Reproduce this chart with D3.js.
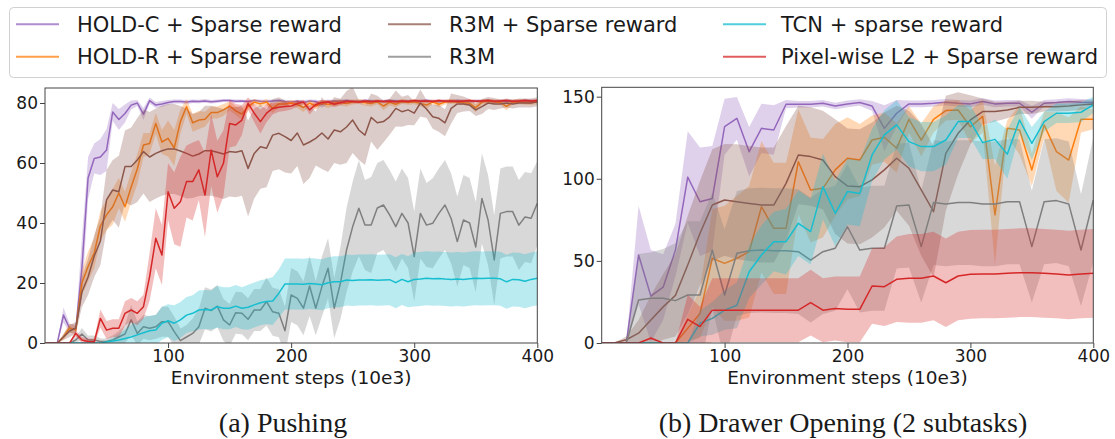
<!DOCTYPE html>
<html><head><meta charset="utf-8">
<script src="https://cdn.jsdelivr.net/npm/d3@7"></script>
<style>
body{margin:0;background:#fff}
svg{display:block}
text{font-family:"DejaVu Sans",sans-serif;fill:#1a1a1a}
</style>
</head><body>
<svg id="c" width="1115" height="439"></svg>
<script>
// ---------- DATA ----------
const seriesNames = ["HOLD-C + Sparse reward","HOLD-R + Sparse reward","R3M + Sparse reward","R3M","TCN + sparse reward","Pixel-wise L2 + Sparse reward"];
const seriesColors = ["#9467bd","#ff7f0e","#8c564b","#7f7f7f","#17becf","#d62728"];
const xTicks = [100,200,300,400];
const yTicksPush = [0,20,40,60,80];
const yTicksDrawer = [0,50,100,150];
const captions = ["(a) Pushing","(b) Drawer Opening (2 subtasks)"];
const xLabel = "Environment steps (10e3)";

// Pushing: environment steps (10e3)
const stepsPush = [0,5,10,15,20,25,30,35,40,45,50,55,60,65,70,75,80,85,90,95,100,105,110,115,120,125,130,135,140,145,150,155,160,165,170,175,180,185,190,195,200,205,210,215,220,225,230,235,240,245,250,255,260,265,270,275,280,285,290,295,300,305,310,315,320,325,330,335,340,345,350,355,360,365,370,375,380,385,390,395,400];

const pushHoldC = [0,0,0,9.3,4.9,4.5,25,55,61.5,62,
 64.3,77,74.5,76.5,79.3,80,76.3,80.8,79.3,79.7,
 80.2,80.5,80.5,80.3,80.6,80.5,80.7,80.4,80.6,80.8,
 80.8,80.6,80.7,80.5,80.8,80.6,80.5,80.7,80.8,80.5,
 80.3,80.6,80.2,80.7,80.5,79.6,80.4,80.7,80.6,80.8,
 80.5,80.6,80.8,80.7,80.5,80.6,80.8,80.7,80.4,80.6,
 80.5,80.7,80.8,80.6,80.4,80.7,80.5,80.8,80.6,80.5,
 80.7,80.6,80.8,80.4,80.6,80.7,80.5,80.6,80.8,80.7,
 80.6];
const pushHoldCSd = [0,0,0,2.5,1.5,1.5,10,7,5,6,
 7,3,3.5,3,1.5,1,2,1,1,1,
 0.8,0.7,0.7,0.7,0.6,0.6,0.6,0.6,0.6,0.5,
 0.5,0.6,0.5,0.5,0.5,0.6,0.6,0.5,0.5,0.6,
 0.6,0.5,0.8,0.5,0.6,1.2,0.7,0.5,0.6,0.5,
 0.5,0.5,0.5,0.5,0.5,0.5,0.5,0.5,0.6,0.5,
 0.5,0.5,0.5,0.5,0.6,0.5,0.5,0.5,0.5,0.5,
 0.5,0.5,0.5,0.6,0.5,0.5,0.5,0.5,0.5,0.5,
 0.5];

const pushHoldR = [0,0,0,2,5,4.3,20,25.5,30,39,
 42.7,45.4,50,45.4,52,58,66,66.5,73.2,67,
 68.2,65,73.8,78.8,73.4,74.3,74.6,76.8,76.8,77.7,
 79,77.4,76.3,78.8,80.3,79.7,80.3,78.2,79.7,79.7,
 80,79.5,78.5,80,79,80,79.5,80,80.2,79.8,
 80.3,80.5,80.1,79.8,80.4,79,80.2,79.6,80.5,80.2,
 80.4,79.8,79.3,80.4,79.6,80.3,80.5,80.3,80.1,79.9,
 78.4,80.3,80.6,80.4,80.2,78.9,80.3,80.4,80.2,80.1,
 80.4];
const pushHoldRSd = [0,0,0,1,1.5,1.5,4,5,5,5,
 5,6,5,5,5,5,4,3.5,3.5,4,
 6,6,4,2.5,3,3,2.5,2,2,2,
 1.5,1.5,2,1.5,1,1,1,1.5,1,1,
 1,1.2,1.5,1,1.2,1,1.2,1,1,1,
 0.8,0.8,1,1,0.8,1.3,1,1,0.8,0.8,
 0.8,1,1.2,0.8,1,0.8,0.8,0.8,0.8,1,
 1.5,0.8,0.7,0.8,0.8,1.3,0.8,0.8,0.8,0.8,
 0.8];

const pushR3MS = [0,0,0,2,4,5,17,22,29,34,
 47.7,51,50.4,58.8,58.8,61,63.8,62,63.2,64.1,
 64.7,64.7,64,63.2,62.3,63,64.1,64.1,63.6,63,
 63.8,63.6,64.1,58.2,63.2,65.4,64.9,69.3,69.9,68.8,
 67.5,70,66,67,68.2,70,68,71,70.4,72,
 74.3,71,69.3,75.2,73.4,73.8,75.4,78.2,77.1,77.7,
 76.6,80,78,75.4,74.9,73.4,78.2,79.7,79.7,79.3,
 77.7,78.8,80,79.7,79.7,80,79.7,80,80,80,
 80.4];
const pushR3MSSd = [0,0,0,1,2,2,5,6,7,8,
 10,10,12,12,13,14,14,15,15,15,
 15,15,15,15,14,14,15,15,15,15,
 15,15,15,16,15,14,13,12,12,12,
 11,11,13,12,9,12,11,11,11,12,
 11,10,10,8,9,7,6,6,5,5,
 4,4.5,3,4,4.5,4.5,5,3,2.5,2,
 2,2.5,2,2,1.5,1.5,1.5,1.5,1.5,1.5,
 1.5];

const pushR3M = [0,0,0,0,0,1,3,1,1,0.5,
 0.5,1,2,3,7.7,3.2,5.4,4.9,5.4,7.1,
 7.1,3.8,0.8,2,3.2,5.4,11.6,10.8,12.3,7.7,
 6,10.1,9.9,7.9,11,11,13.8,10.4,9.9,4.1,
 16,14.9,11.6,19,11.6,18.8,24.9,11.6,19.9,31,
 38.8,44.9,39.3,39.3,45,46,42.7,38.8,43.2,40,
 28.8,43.2,39.3,39.9,43.2,46,41.5,33.8,41,40,
 32,48.2,41,27.7,43.2,43.8,43.8,39.3,42,41.6,
 46.6];
const pushR3MSd = [0,0,0,0,0,1,2,1.5,1.5,1,
 1,1.5,2,3,5,4,4,4,4,5,
 5,5,4,4,5,6,7,7,7,7,
 7,7,7,7,7,7,8,8,8,8,
 9,9,9,10,9,10,10,10,12,14,
 15,16,15,16,15,15,15,15,15,15,
 15,15,14,15,15,15,15,15,15,15,
 15,15,15,15,15,15,15,15,15,15,
 14];

const pushTCN = [0,0,0,0,0,0,0,0,0,0,
 0.3,0.7,1,1.5,2,2.7,3.4,4.1,4.3,6.6,
 7.4,6.6,7.7,9.3,9.9,11,11.2,11,12.1,11.6,
 11.6,12.3,11.6,11.9,12.7,13.4,13.8,14,16.6,19.7,
 19.7,19.7,19.6,19.8,19.7,19.4,20.1,20.4,20.4,21,
 20.8,21,21,21.1,20.9,21,21.1,20.1,21.2,20.4,
 21.2,21.3,21.6,21.4,21.5,21.3,21.2,21.3,21.2,21.4,
 21.6,21.5,21.6,21.6,21.4,20.4,21.2,21.1,20.6,21.2,
 21.6];
const pushTCNSd = [0,0,0,0,0,0,0,0,0,0,
 0.5,1,2,3,4,4.5,5,5,5,5.5,
 5.5,6,6,6,6,6.5,6.5,6.5,7,7,
 7,7,7,7.5,7.5,7.5,7.5,8,8,8.5,
 8.5,8.5,8.5,8.5,8.5,8.5,8.5,8.5,8.5,8.5,
 8.5,8.5,8.5,8.5,8.5,8.5,8.5,8.5,8.5,8.5,
 9,9,9,9,9,9,9,9,9,9,
 9,9,9,9,9,9,9,9,9,9,
 9];

const pushPix = [0,0,0,0,0,3.2,1,0.5,0.4,8.2,
 4.3,4.9,4.9,9.9,11,9.9,12.1,22.1,34.9,29.3,
 50.4,44.9,47.1,53.8,53.8,57.7,49.3,64.3,55.4,59.9,
 73.2,72.7,74.3,79.9,76.6,73.8,76.6,78.2,78.6,78.8,
 79,79.8,80.3,77.7,79.5,80.2,80.4,79.6,80.1,80.5,
 80.5,80.3,80.6,80.4,80.7,80.5,80.6,80.4,80.7,80.5,
 80.8,80.6,80.7,80.5,80.8,80.6,80.7,80.5,80.7,80.8,
 80.6,80.7,80.8,80.6,80.7,80.8,80.6,80.7,80.8,80.7,
 80.8];
const pushPixSd = [0,0,0,0,0,1,1,1,1,3,
 3,3,3,4,4,4,4,8,10,10,
 9.5,12,15,12,13,10,14,12,12,11,
 8,7,5,2,3,4,3,2,1.5,1.5,
 1.2,1,0.8,1.5,1,0.8,0.7,1,0.8,0.6,
 0.6,0.5,0.5,0.5,0.5,0.5,0.5,0.5,0.5,0.5,
 0.5,0.5,0.5,0.5,0.5,0.5,0.5,0.5,0.5,0.5,
 0.5,0.5,0.5,0.5,0.5,0.5,0.5,0.5,0.5,0.5,
 0.5];

// Drawer opening: environment steps (10e3)
const stepsDrawer = [0,10,20,30,40,50,60,70,80,90,100,110,120,130,140,150,160,170,180,190,200,210,220,230,240,250,260,270,280,290,300,310,320,330,340,350,360,370,380,390,400];

const drawHoldC = [0,0,0,53.6,28.6,34,56.6,101,86,88,
 131.7,136.8,116.5,130.7,129.7,145.4,145.4,145.4,146,144.3,
 145.6,146.4,144.3,130.7,139.9,145.6,145.6,146,146.6,146,
 145.6,147,145.6,146,146,140.5,146,146.4,147,146.6,
 146.4];
const drawHoldCSd = [0,0,0,30,28,20,16,28,33,32,
 17,13,15,15,15,2.5,2,2,2,2,
 2,2,3,14,8,2,2,2,2,2,
 2,2,2,2,2,4,2,2,2,2,
 2];

const drawHoldR = [0,0,0,0,0,0,0,9,18,51.6,
 48.5,51.6,55.6,83,69.8,69.8,110.4,93.2,94.2,105.4,
 112.5,111.4,123.6,125.3,118.6,136.2,123.6,136.2,141.5,141.9,
 131.7,138,78,130.7,129.7,105.4,132.8,116.5,111.4,136.2,
 136.2];
const drawHoldRSd = [0,0,0,0,0,0,0,8,15,30,
 35,38,40,40,40,40,32,32,30,28,
 25,22,15,15,15,8,10,8,6,6,
 10,10,30,5,15,10,8,24,26,8,
 6];

const drawR3MS = [0,0,2,6,14,22,29,47.5,66.8,84,
 87.1,86,85,84,84,97.2,114.5,113.5,111.4,101.3,
 95.6,95.2,99.3,105.4,112.5,106.4,93.2,80,115.5,127.7,
 135.8,140.9,140.9,141.9,143.5,143.5,143.9,143.9,144.3,145,
 145.6];
const drawR3MSSd = [0,0,2,8,15,20,25,30,32,34,
 34,35,35,35,35,35,30,30,30,35,
 35,35,35,35,32,35,40,40,35,25,
 15,8,6,5,4,4,3,3,3,3,
 2];

const drawR3M = [0,0,0,26.2,27.2,27.2,25.8,29.2,29.2,56.6,
 29.2,54.6,56.2,56.6,56.2,56.2,55.6,50.5,55.6,57.7,
 70.8,56.6,57.7,57.7,83.4,84,58.7,85.5,84.7,85.5,
 85.5,84.7,84.7,86,86,58.7,86,86.7,84.7,56.6,
 87.1];
const drawR3MSd = [0,0,0,28,28,30,35,45,45,35,
 40,38,38,38,38,38,38,38,38,38,
 38,38,38,38,38,38,34,38,38,38,
 38,38,38,38,38,34,38,38,38,34,
 38];

const drawTCN = [0,0,0,0,0,0,0,0,12,15,
 20,23,43.4,53.6,61.7,61.7,72.9,67.8,95.2,79,
 92.2,91.1,114.5,126.7,132.8,122.6,119.6,119.6,123.6,134.8,
 134.8,122,124,115,135.8,121.6,134.8,139.9,139.9,140.5,
 145];
const drawTCNSd = [0,0,0,0,0,0,0,0,8,10,
 12,14,16,18,18,20,20,20,20,20,
 20,20,16,15,15,15,15,15,15,10,
 10,10,12,15,8,10,6,6,6,6,
 5];

const drawPix = [0,0,0,0,3,0,0,14.4,10,20,
 20,20,20,20,20,20,20,24.6,20,21,
 20.5,20.5,34.7,34.3,38.8,39.4,39.4,40.8,36.7,40.8,
 41.8,42,42,42.4,42.8,42.8,42.4,42,41.4,42,
 42.4];
const drawPixSd = [0,0,0,0,1,0,0,15,12,19.5,
 19.5,19.5,19.5,19.5,19.5,19.5,19.5,20,19.5,19.5,
 20,20,23,24,26,27,27,27,27,27,
 27,27,27,27,27,27,27,27,27,27,
 27];

// ---------- DRAW ----------
const svg = d3.select("#c");
svg.append("rect").attr("width",1115).attr("height",439).attr("fill","#fff");

function panel(cfg){
  const x = d3.scaleLinear().domain([0,400]).range([cfg.x0,cfg.x1]);
  const y = d3.scaleLinear().domain([0,cfg.ymax]).range([cfg.y1,cfg.y0]);
  const g = svg.append("g");
  const cid = "clip"+cfg.id;
  svg.append("clipPath").attr("id",cid).append("rect")
    .attr("x",cfg.x0).attr("y",cfg.y0).attr("width",cfg.x1-cfg.x0).attr("height",cfg.y1-cfg.y0);
  const plot = g.append("g").attr("clip-path",`url(#${cid})`);
  cfg.series.forEach((s,i)=>{
    const pts = cfg.steps.map((st,k)=>({x:st,m:s.mean[k],sd:s.sd[k]}));
    const area = d3.area().x(d=>x(d.x)).y0(d=>y(d.m-d.sd)).y1(d=>y(d.m+d.sd));
    plot.append("path").attr("d",area(pts)).attr("fill",seriesColors[i]).attr("fill-opacity",0.3).attr("stroke","none");
    const line = d3.line().x(d=>x(d.x)).y(d=>y(d.m));
    plot.append("path").attr("d",line(pts)).attr("fill","none").attr("stroke",seriesColors[i])
      .attr("stroke-width",1.5).attr("stroke-linejoin","round");
  });
  const ax = g.append("g").attr("transform",`translate(0,${cfg.y1})`)
    .call(d3.axisBottom(x).tickValues(xTicks).tickSize(5).tickPadding(2).tickFormat(d3.format("d")));
  const ay = g.append("g").attr("transform",`translate(${cfg.x0},0)`)
    .call(d3.axisLeft(y).tickValues(cfg.yticks).tickSize(5).tickPadding(2).tickFormat(d3.format("d")));
  [ax,ay].forEach(a=>{
    a.select(".domain").remove();
    a.selectAll(".tick line").attr("stroke","#444");
    a.selectAll(".tick text").attr("font-size",17).attr("font-family","DejaVu Sans").attr("fill","#1a1a1a");
  });
  g.append("rect").attr("x",cfg.x0).attr("y",cfg.y0).attr("width",cfg.x1-cfg.x0).attr("height",cfg.y1-cfg.y0)
    .attr("fill","none").attr("stroke","#444").attr("stroke-width",1);
  g.append("text").attr("x",(cfg.x0+cfg.x1)/2).attr("y",383.5).attr("text-anchor","middle")
    .attr("font-size",18.5).text(xLabel);
  g.append("text").attr("x",cfg.capX).attr("y",432).attr("text-anchor","middle")
    .attr("font-size",28).style("font-family","'Liberation Serif','Times New Roman',serif").text(cfg.caption);
}

panel({id:"a",x0:45,x1:537.3,y0:88,y1:343,ymax:85,yticks:yTicksPush,steps:stepsPush,capX:283,caption:captions[0],
  series:[{mean:pushHoldC,sd:pushHoldCSd},{mean:pushHoldR,sd:pushHoldRSd},{mean:pushR3MS,sd:pushR3MSSd},
          {mean:pushR3M,sd:pushR3MSd},{mean:pushTCN,sd:pushTCNSd},{mean:pushPix,sd:pushPixSd}]});
panel({id:"b",x0:601.7,x1:1093.3,y0:87.3,y1:343,ymax:155.7,yticks:yTicksDrawer,steps:stepsDrawer,capX:843,caption:captions[1],
  series:[{mean:drawHoldC,sd:drawHoldCSd},{mean:drawHoldR,sd:drawHoldRSd},{mean:drawR3MS,sd:drawR3MSSd},
          {mean:drawR3M,sd:drawR3MSd},{mean:drawTCN,sd:drawTCNSd},{mean:drawPix,sd:drawPixSd}]});

// legend
const leg = svg.append("g");
leg.append("rect").attr("x",9.5).attr("y",7.5).attr("width",1097).attr("height",70).attr("rx",4)
  .attr("fill","#fff").attr("stroke","#d0d0d0").attr("stroke-width",1);
const colLineX = [16,388,723], colTextX = [77,449,781], rowY = [24.3,56.7];
seriesNames.forEach((n,i)=>{
  const c = Math.floor(i/2), r = i%2;
  leg.append("line").attr("x1",colLineX[c]).attr("x2",colLineX[c]+43).attr("y1",rowY[r]).attr("y2",rowY[r])
    .attr("stroke",seriesColors[i]).attr("stroke-width",2).attr("stroke-opacity",0.75);
  leg.append("text").attr("x",colTextX[c]).attr("y",rowY[r]).attr("dy","0.35em").attr("font-size",21).text(n);
});
</script>
</body></html>
